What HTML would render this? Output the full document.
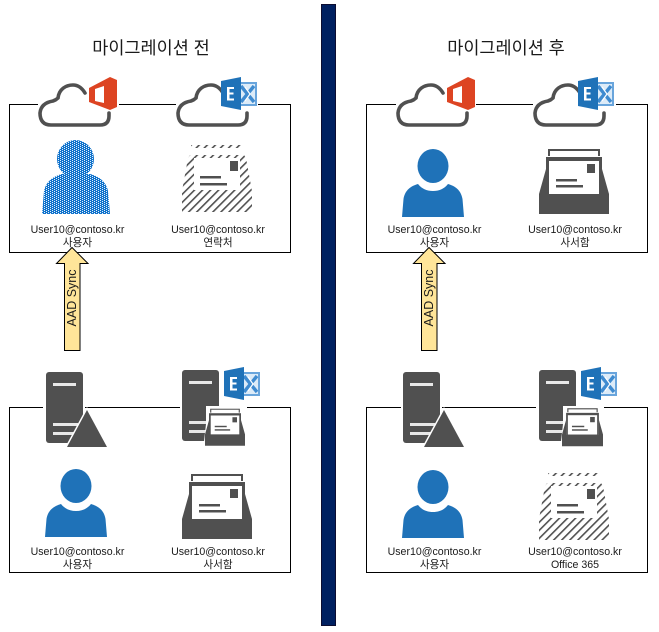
<!DOCTYPE html>
<html>
<head>
<meta charset="utf-8">
<style>
html,body{margin:0;padding:0;background:#fff;}
svg{display:block;}
text{font-family:"Liberation Sans","Noto Sans CJK KR",sans-serif;fill:#1a1a1a;}
.t{font-size:17.5px;text-anchor:middle;}
.l{font-size:10.6px;text-anchor:middle;}
.a{font-size:12.5px;text-anchor:middle;}
</style>
</head>
<body>
<svg width="659" height="632" viewBox="0 0 659 632" xmlns="http://www.w3.org/2000/svg">
<defs>
<pattern id="dots" width="4" height="2" patternUnits="userSpaceOnUse">
  <rect width="4" height="2" fill="#0f72cc"/>
  <rect x="0" y="0" width="1" height="1" fill="#e6f1fa"/>
  <rect x="2" y="1" width="1" height="1" fill="#e6f1fa"/>
</pattern>
<pattern id="hatch" width="5.7" height="6" patternUnits="userSpaceOnUse" patternTransform="rotate(45)">
  <rect x="0" y="0" width="1.6" height="6" fill="#505050"/>
</pattern>
<symbol id="cloud" width="74" height="46" viewBox="0 0 74 46" overflow="visible">
  <path d="M71 30V33Q71 42 62 42H13Q2 42 2 30Q3 20 15 18Q18 17 20 15C21 6 28 2 35 2C40 2 44 5 47 10" fill="#fff" stroke="#505050" stroke-width="3.6" stroke-linecap="round"/>
</symbol>
<symbol id="office" width="28" height="33" viewBox="0 0 28 33">
  <path fill-rule="evenodd" d="M0 11L21 0L28 3V30L21 33L0 25ZM6 12L15 9V26L6 24Z" fill="#dd4422"/>
</symbol>
<symbol id="exch" width="36" height="33" viewBox="0 0 36 33">
  <rect x="18" y="6" width="17" height="22" fill="#dcebf8" stroke="#69a5dc" stroke-width="2"/>
  <path d="M20 9L33 25M33 9L20 25" stroke="#3f8bd0" stroke-width="3.4" fill="none"/>
  <path d="M24 10L29 17L24 24" stroke="#fff" stroke-width="1.2" fill="none"/>
  <polygon points="0,4 20,0 20,33 0,29" fill="#1f72b8"/>
  <path d="M6 10H13V12H8.500V15.500H12.500V17.500H8.500V21.500H13V23.500H6Z" fill="#fff"/>
</symbol>
<symbol id="user" width="62" height="68" viewBox="0 0 62 68">
  <ellipse cx="31" cy="17" rx="15.5" ry="17" fill="#1f72b8"/>
  <path d="M0 68L1.500 50C3 41 9 37 16 35C20 40 25 42 31 42C37 42 42 40 46 35C53 37 59 41 60.500 50L62 68Z" fill="#1f72b8"/>
</symbol>
<symbol id="inbox" width="70" height="66" viewBox="0 0 70 66">
  <path d="M10 7V1H60V7" fill="none" stroke="#505050" stroke-width="2"/>
  <path d="M0 65V45L7 20V46H63V20L70 45V65Z" fill="#505050"/>
  <rect x="7" y="8" width="56" height="40" fill="#505050"/>
  <rect x="10" y="12" width="50" height="33" fill="#fff"/>
  <rect x="48" y="15" width="8" height="9" fill="#505050"/>
  <rect x="17" y="30" width="21" height="2.500" fill="#505050"/>
  <rect x="17" y="36" width="27" height="2.500" fill="#505050"/>
</symbol>
<symbol id="env" width="70" height="68" viewBox="0 0 70 68">
  <path d="M9 0H61V3H9Z" fill="url(#hatch)"/>
  <path fill-rule="evenodd" d="M8 10H62L64 13L70 46V67H0V46L6 13ZM12 13V45H58V13Z" fill="url(#hatch)"/>
  <rect x="48" y="16" width="8" height="10" fill="#505050"/>
  <rect x="18" y="31" width="21" height="2.500" fill="#505050"/>
  <rect x="18" y="38" width="27" height="2.500" fill="#505050"/>
</symbol>
<symbol id="server" width="38" height="72" viewBox="0 0 38 72">
  <rect x="0" y="0" width="37" height="71" rx="3" fill="#505050"/>
  <rect x="7" y="11" width="23" height="3" fill="#e8e8e8"/>
  <rect x="7" y="51" width="25" height="3" fill="#e8e8e8"/>
  <rect x="7" y="60" width="25" height="3" fill="#e8e8e8"/>
</symbol>
</defs>

<rect x="321.500" y="4.500" width="14" height="621" fill="#002060" stroke="#0d0d30" stroke-width="1"/>

<text class="t" x="151" y="54">마이그레이션 전</text>
<text class="t" x="506" y="54">마이그레이션 후</text>

<g fill="none" stroke="#000" stroke-width="1">
  <rect x="9.500" y="104.500" width="281" height="148"/>
  <rect x="9.500" y="407.500" width="281" height="165"/>
  <rect x="366.500" y="104.500" width="281" height="148"/>
  <rect x="366.500" y="407.500" width="281" height="165"/>
</g>
<!-- gaps in borders -->
<g fill="#fff">
  <rect x="38" y="100" width="81" height="9"/>
  <rect x="176" y="100" width="82" height="9"/>
  <rect x="396" y="100" width="80" height="9"/>
  <rect x="533" y="100" width="83" height="9"/>
  <rect x="43" y="403" width="42" height="9"/>
  <rect x="180" y="403" width="62" height="9"/>
  <rect x="401" y="403" width="41" height="9"/>
  <rect x="536" y="403" width="65" height="9"/>
</g>

<!-- top-left -->
<use href="#cloud" x="38" y="83"/>
<use href="#office" x="89" y="77"/>
<use href="#cloud" x="176" y="83"/>
<use href="#exch" x="221" y="77"/>
<g fill="url(#dots)">
  <ellipse cx="75.500" cy="159" rx="18.500" ry="19"/>
  <path d="M42 214L44 191C46 181 54 176 62 174H90C98 176 106 181 108 191L110 214Z"/>
</g>
<use href="#env" x="182" y="145"/>

<!-- top-right -->
<use href="#cloud" x="396" y="83"/>
<use href="#office" x="447" y="77"/>
<use href="#cloud" x="533" y="83"/>
<use href="#exch" x="578" y="77"/>
<use href="#user" x="402" y="149"/>
<use href="#inbox" x="539" y="149"/>

<!-- bottom-left -->
<use href="#server" x="46" y="372"/>
<polygon points="87,410 107,447 67,447" fill="#505050" stroke="#fff" stroke-width="3" paint-order="stroke"/>
<use href="#server" x="182" y="370"/>
<path d="M203 450L206 424V406H247V450Z" fill="#fff"/>
<svg x="205" y="408" width="40" height="39" viewBox="0 0 70 66"><use href="#inbox"/></svg>
<use href="#exch" x="224" y="367"/>
<use href="#user" x="45" y="469"/>
<use href="#inbox" x="182" y="474"/>

<!-- bottom-right -->
<use href="#server" x="403" y="372"/>
<polygon points="444,410 464,447 424,447" fill="#505050" stroke="#fff" stroke-width="3" paint-order="stroke"/>
<use href="#server" x="539" y="370"/>
<path d="M560 450L563 424V406H604V450Z" fill="#fff"/>
<svg x="562" y="408" width="41" height="39" viewBox="0 0 70 66"><use href="#inbox"/></svg>
<use href="#exch" x="581" y="367"/>
<use href="#user" x="402" y="470"/>
<use href="#env" x="539" y="473"/>

<!-- arrows -->
<polygon points="72,247.500 88,263.500 80,263.500 80,350.500 64.500,350.500 64.500,263.500 56.500,263.500" fill="#ffe599" stroke="#000" stroke-width="1"/>
<polygon points="429,247.500 445,263.500 437,263.500 437,350.500 421.500,350.500 421.500,263.500 413.500,263.500" fill="#ffe599" stroke="#000" stroke-width="1"/>
<text class="a" transform="translate(76,298) rotate(-90)" x="0" y="0">AAD Sync</text>
<text class="a" transform="translate(433,298) rotate(-90)" x="0" y="0">AAD Sync</text>

<!-- labels -->
<text class="l" x="77.500" y="233">User10@contoso.kr</text>
<text class="l" x="77.500" y="246">사용자</text>
<text class="l" x="218" y="233">User10@contoso.kr</text>
<text class="l" x="218" y="246">연락처</text>

<text class="l" x="434.500" y="233">User10@contoso.kr</text>
<text class="l" x="434.500" y="246">사용자</text>
<text class="l" x="575" y="233">User10@contoso.kr</text>
<text class="l" x="575" y="246">사서함</text>

<text class="l" x="77.500" y="555">User10@contoso.kr</text>
<text class="l" x="77.500" y="568">사용자</text>
<text class="l" x="218" y="555">User10@contoso.kr</text>
<text class="l" x="218" y="568">사서함</text>

<text class="l" x="434.500" y="555">User10@contoso.kr</text>
<text class="l" x="434.500" y="568">사용자</text>
<text class="l" x="575" y="555">User10@contoso.kr</text>
<text class="l" x="575" y="568">Office 365</text>
</svg>
</body>
</html>
